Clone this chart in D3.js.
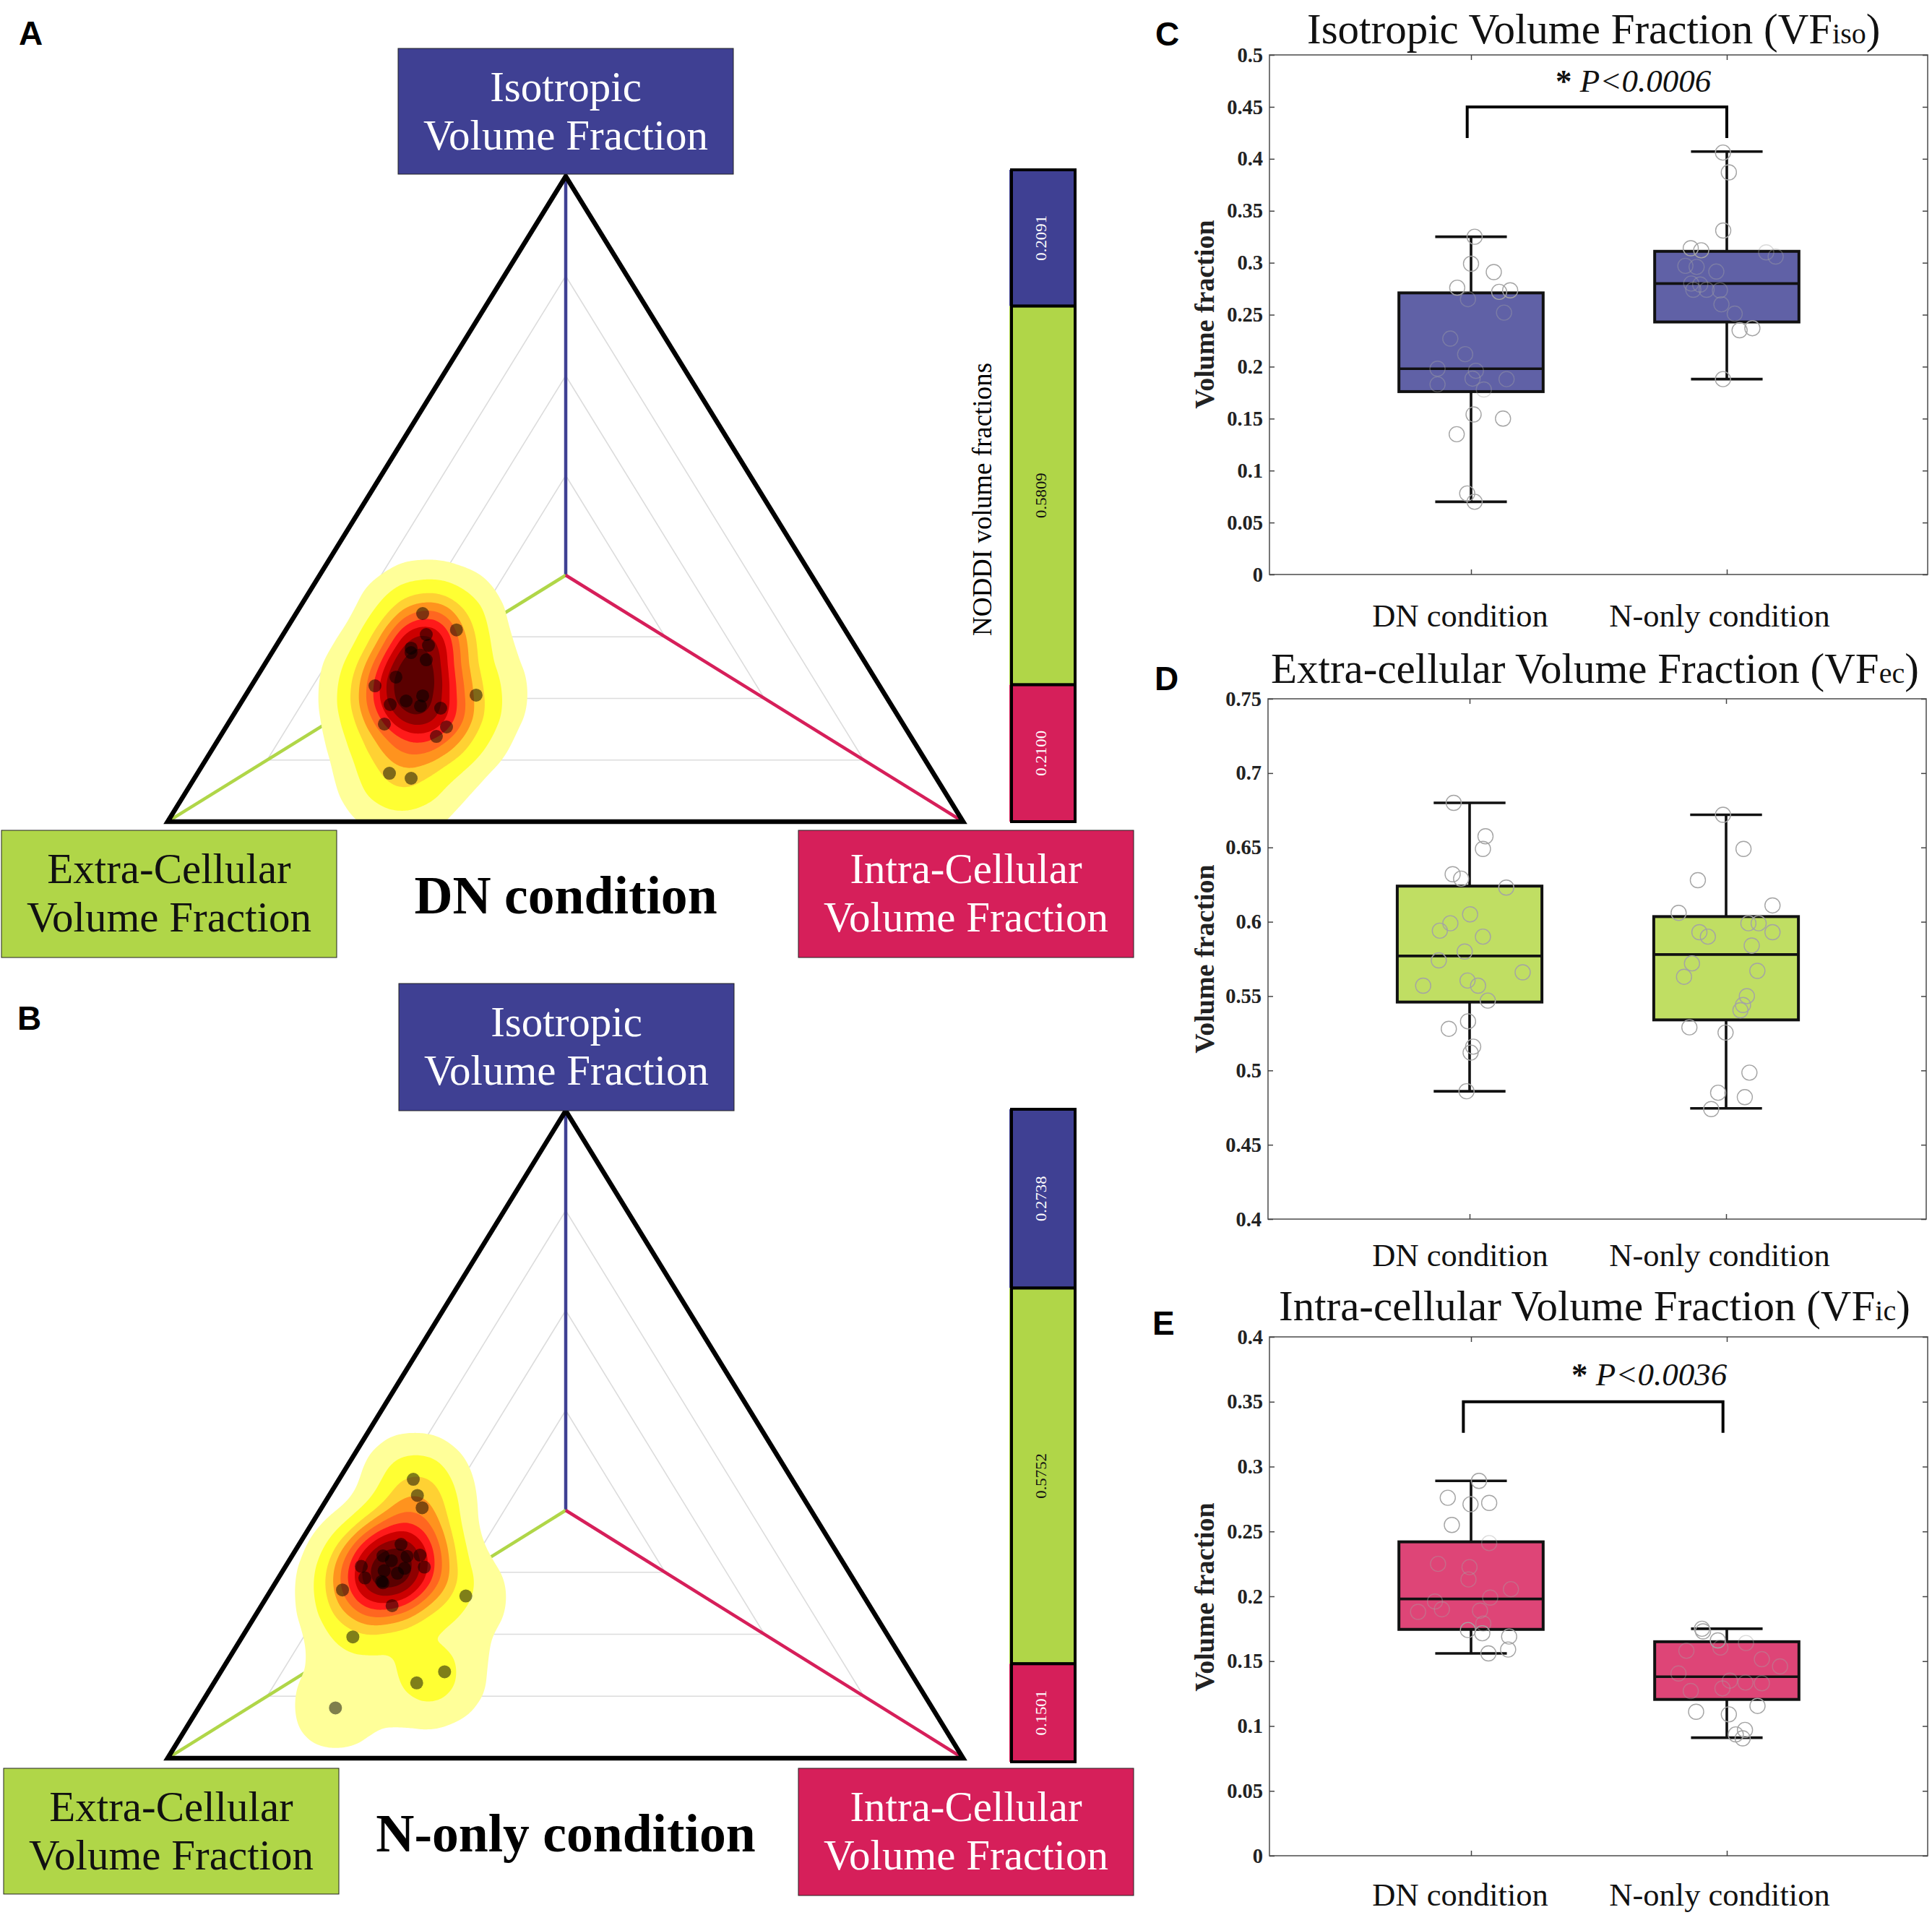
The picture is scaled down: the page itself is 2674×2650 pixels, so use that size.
<!DOCTYPE html>
<html><head><meta charset="utf-8">
<script src="https://cdn.jsdelivr.net/npm/d3@7/dist/d3.min.js"></script>
<style>html,body{margin:0;padding:0;background:#fff}svg{display:block}text{font-family:"Liberation Serif",serif}</style>
</head><body><svg id="c" width="2674" height="2650"></svg>
<script>
// ---------- data ----------
const conditions = ["DN condition", "N-only condition"];
const fractionsA = [0.2091, 0.5809, 0.2100];
const fractionsB = [0.2738, 0.5752, 0.1501];
// ternary subject points: [isotropic, intra-cellular] (extra-cellular is the remainder)
const subjectsA = [[.3225,.1592],[.2971,.2144],[.29,.18],[.2732,.1912],[.2688,.1716],[.262,.1749],[.2508,.1996],[.224,.1749],[.2105,.1553],[.196,.2897],[.1814,.189],[.187,.2062],[.1949,.2231],[.1792,.2282],[.1758,.2553],[.1512,.1968],[.1467,.2772],[.1321,.2717],[.075,.2413],[.0672,.2725]];
const subjectsB = [[.4307,.0933],[.4058,.1109],[.3868,.1264],[.3303,.1281],[.3136,.1603],[.3125,.1143],[.3051,.1286],[.3118,.1449],[.2951,.175],[.2962,.0952],[.2932,.1511],[.2857,.1459],[.2784,.1086],[.2728,.1326],[.2598,.0898],[.2356,.1643],[.2505,.2495],[.1873,.1391],[.1334,.2814],[.1163,.2549],[.0777,.1721],[.2895,.1273],[.2709,.1351]];
const densityLevelsA = [.028,.12,.25,.36,.47,.58,.68,.78,.88];
const densityLevelsB = [.036,.12,.22,.31,.41,.52,.63,.75,.87];
const densityColors = ["#ffff99","#ffff33","#ffd133","#ff931e","#ff6620","#ff1a1a","#cc0000","#8f0000","#5a0000"];
const ringLevels = [.25,.5,.75];

const statsIso = [{lo:.07,q1:.176,med:.198,q3:.271,hi:.325},{lo:.188,q1:.243,med:.28,q3:.311,hi:.407}];
const statsEc  = [{lo:.486,q1:.546,med:.577,q3:.624,hi:.68},{lo:.4745,q1:.534,med:.578,q3:.6035,hi:.672}];
const statsIc  = [{lo:.156,q1:.1745,med:.198,q3:.242,hi:.289},{lo:.091,q1:.1205,med:.138,q3:.165,hi:.175}];

const isoDNv = [.325,.299,.291,.276,.2735,.272,.265,.252,.227,.212,.198,.196,.1885,.188,.183,.178,.154,.15,.135,.078,.07];
const isoDNj = [.014,0,.089,-.054,.153,.11,-.012,.129,-.081,-.023,-.131,.019,.006,.139,-.131,.05,.01,.125,-.056,-.015,.014];
const isoNv  = [.406,.387,.331,.314,.312,.31,.306,.297,.296,.2915,.28,.274,.274,.2735,.26,.251,.235,.237,.188,.279];
const isoNj  = [-.015,.008,-.014,-.141,-.1,.154,.191,-.162,-.118,-.041,-.139,-.131,-.079,-.027,-.021,.031,.05,.1,-.015,-.104];
const ecDNv  = [.68,.6575,.649,.632,.629,.623,.605,.599,.594,.59,.58,.574,.566,.5605,.557,.557,.547,.533,.528,.516,.512,.486];
const ecDNj  = [-.062,.062,.052,-.066,-.033,.143,.002,-.075,-.116,.052,-.019,-.12,.207,-.008,.033,-.181,.071,-.006,-.081,.014,.004,-.012];
const ecNv   = [.672,.649,.628,.611,.606,.599,.599,.593,.593,.59,.584,.572,.567,.563,.55,.544,.5405,.529,.5255,.4985,.485,.482,.474];
const ecNj   = [-.012,.068,-.11,.181,-.185,.087,.127,-.104,.181,-.071,.1,-.133,.122,-.164,.081,.066,.056,-.143,-.002,.091,-.031,.073,-.058];
const icDNv  = [.289,.276,.271,.272,.255,.241,.225,.2225,.213,.2055,.199,.196,.19,.189,.188,.179,.174,.1715,.169,.159,.156];
const icDNj  = [.031,-.091,-.002,.071,-.075,.071,-.129,-.006,-.01,.156,.075,-.141,-.114,.035,-.207,.048,-.012,.044,.149,.145,.068];
const icNv   = [.175,.173,.166,.164,.1605,.158,.1515,.146,.1405,.135,.1335,.133,.129,.127,.1155,.111,.109,.097,.0935,.0905];
const icNj   = [-.097,-.093,-.035,.075,-.025,-.158,.137,.208,-.189,.012,.073,.137,-.017,-.141,.12,-.12,.008,.071,.035,.062];

const ticksIso = [0,.05,.1,.15,.2,.25,.3,.35,.4,.45,.5];
const ticksEc  = [.4,.45,.5,.55,.6,.65,.7,.75];
const ticksIc  = [0,.05,.1,.15,.2,.25,.3,.35,.4];

// ---------- colours ----------
const BLUE="#3f4093", GREEN="#b0d648", RED="#d61f5a";
const svg = d3.select("#c");
const defs = svg.append("defs");

// ---------- left panels ----------
function ternary(o){
  const g = svg.append("g");
  const [T,L,R] = [o.top,o.left,o.right];
  const C = o.center;
  const bary = (iso,ic)=>[iso*T[0]+ic*R[0]+(1-iso-ic)*L[0], iso*T[1]+ic*R[1]+(1-iso-ic)*L[1]];
  const line = d3.line();
  ringLevels.forEach(k=>{
    const p=[T,R,L].map(v=>[C[0]+(v[0]-C[0])*k, C[1]+(v[1]-C[1])*k]);
    g.append("path").attr("d",line(p)+"Z").attr("fill","none").attr("stroke","#dcdcdc").attr("stroke-width",1.6);
  });
  [[T,BLUE],[L,GREEN],[R,RED]].forEach(([v,c])=>{
    g.append("path").attr("d",line([C,v])).attr("stroke",c).attr("stroke-width",4.5).attr("fill","none");
  });
  const pts = o.subjects.map(d=>bary(d[0],d[1]));
  const dens = d3.contourDensity().x(d=>d[0]).y(d=>d[1]).size([1400,2650]).cellSize(3).bandwidth(o.bw);
  const peak = d3.max(dens.thresholds(200)(pts),d=>d.value);
  dens.thresholds(o.levels.map(l=>l*peak));
  defs.append("clipPath").attr("id",o.clip).append("path").attr("d",line([T,R,L])+"Z");
  g.append("g").attr("clip-path",`url(#${o.clip})`).selectAll(".blob").data(dens(pts)).join("path").attr("class","blob")
    .attr("d",d3.geoPath()).attr("fill",(d,i)=>densityColors[i]);
  g.append("path").attr("d",line([T,R,L])+"Z").attr("fill","none").attr("stroke","#000").attr("stroke-width",6.5).attr("stroke-linejoin","miter");
  g.selectAll(".pt").data(pts).join("circle").attr("class","pt").attr("cx",d=>d[0]).attr("cy",d=>d[1]).attr("r",9)
    .attr("fill","#000").attr("fill-opacity",.5);
  const y = d3.scaleLinear().domain([0,d3.sum(o.fractions)]).range(o.barY);
  let acc=0;
  [[o.fractions[0],BLUE,"#fff"],[o.fractions[1],GREEN,"#111"],[o.fractions[2],RED,"#fff"]].forEach(([f,c,tc])=>{
    const y0=y(acc), y1=y(acc+f); acc+=f;
    g.append("rect").attr("x",1397).attr("y",y0).attr("width",91).attr("height",y1-y0).attr("fill",c);
    g.append("rect").attr("x",1400).attr("y",y0).attr("width",88).attr("height",y1-y0).attr("fill",c).attr("stroke","#000").attr("stroke-width",4);
    const my=(y0+y1)/2;
    g.append("text").attr("transform",`translate(1448,${my}) rotate(-90) scale(1.2,1.1)`).attr("text-anchor","middle").attr("fill",tc).attr("font-size",19).text(f.toFixed(4));
  });
  if(o.barTitle) g.append("text").attr("transform",`translate(1372,${(o.barY[0]+o.barY[1])/2+5}) rotate(-90)`).attr("text-anchor","middle").attr("font-size",37).text(o.barTitle);
  o.boxes.forEach(b=>{
    g.append("rect").attr("x",b.x).attr("y",b.y).attr("width",b.w).attr("height",b.h).attr("fill",b.c).attr("stroke","#222").attr("stroke-width",1);
    b.lines.forEach((t,i)=>g.append("text").attr("x",b.x+b.w/2).attr("y",b.y+73+i*67).attr("text-anchor","middle").attr("fill",b.tc).attr("font-size",59).text(t));
  });
  g.append("text").attr("x",o.titleX).attr("y",o.titleY).attr("text-anchor","middle").attr("font-weight","bold").attr("font-size",73.6).text(o.title);
}
const L1=["Isotropic","Volume Fraction"],L2=["Extra-Cellular","Volume Fraction"],L3=["Intra-Cellular","Volume Fraction"];
ternary({clip:"triA",top:[783,244],left:[232,1137],right:[1333,1137],center:[783,796],subjects:subjectsA,bw:38,levels:densityLevelsA,fractions:fractionsA,barY:[235,1137],barTitle:"NODDI volume fractions",
  boxes:[{x:551,y:67,w:464,h:174,c:BLUE,tc:"#fff",lines:L1},{x:2,y:1149,w:464,h:176,c:GREEN,tc:"#111",lines:L2},{x:1105,y:1149,w:464,h:176,c:RED,tc:"#fff",lines:L3}],
  title:"DN condition",titleX:783,titleY:1264});
ternary({clip:"triB",top:[783,1537],left:[232,2433],right:[1333,2433],center:[783,2090],subjects:subjectsB,bw:38,levels:densityLevelsB,fractions:fractionsB,barY:[1535,2438],
  boxes:[{x:552,y:1361,w:464,h:176,c:BLUE,tc:"#fff",lines:L1},{x:5,y:2447,w:464,h:174,c:GREEN,tc:"#111",lines:L2},{x:1105,y:2447,w:464,h:176,c:RED,tc:"#fff",lines:L3}],
  title:"N-only condition",titleX:783,titleY:2562});

// panel letters
[["A",26,62],["B",24,1425],["C",1599,63],["D",1598,955],["E",1595,1847]].forEach(([t,x,y])=>{
  svg.append("text").attr("x",x).attr("y",y).attr("font-size",46).attr("font-weight","bold").style("font-family","Liberation Sans").text(t);
});

// ---------- right panels ----------
function boxPanel(o){
  const g=svg.append("g");
  const x=d3.scaleLinear().domain([1,2]).range(o.xr);
  const y=d3.scaleLinear().domain(o.dom).range(o.yr);
  const [l,r]=o.frame;
  const xa=[d3.axisBottom(x).tickValues([1,2]).tickSize(-7).tickFormat(""),d3.axisTop(x).tickValues([1,2]).tickSize(-7).tickFormat("")];
  const draw=(gen,tx,ty)=>{
    const a=g.append("g").attr("transform",`translate(${tx},${ty})`).call(gen);
    a.select(".domain").remove();
    a.selectAll(".tick line").attr("stroke","#444").attr("stroke-width",1.5);
    return a;
  };
  g.append("rect").attr("x",l).attr("y",o.yr[1]).attr("width",r-l).attr("height",o.yr[0]-o.yr[1]).attr("fill","#fff").attr("stroke","#555").attr("stroke-width",1.6);
  draw(xa[0],0,o.yr[0]); draw(xa[1],0,o.yr[1]);
  const ly=draw(d3.axisLeft(y).tickValues(o.ticks).tickSize(-7).tickPadding(9).tickFormat(d=>String(+d.toFixed(2))),l,0);
  ly.selectAll("text").attr("font-size",28.5).attr("font-weight","bold").attr("fill","#222").style("font-family","Liberation Serif");
  draw(d3.axisRight(y).tickValues(o.ticks).tickSize(-7).tickFormat(""),r,0);
  g.append("text").attr("transform",`translate(1680,${o.labY}) rotate(-90)`).attr("text-anchor","middle").attr("font-size",38).attr("font-weight","bold").attr("fill","#222").text("Volume fraction");
  conditions.forEach((c,i)=>{
    g.append("text").attr("x",[2021,2380][i]).attr("y",o.catY).attr("text-anchor","middle").attr("font-size",44.5).attr("fill","#111").text(c);
  });
  const BW=.282, CAP=.14;
  o.stats.forEach((s,i)=>{
    const cx=x(i+1);
    g.append("path").attr("d",`M${cx},${y(s.lo)}V${y(s.q1)}M${cx},${y(s.q3)}V${y(s.hi)}`).attr("stroke","#111").attr("stroke-width",3.6);
    g.append("path").attr("d",`M${x(i+1-CAP)},${y(s.lo)}H${x(i+1+CAP)}M${x(i+1-CAP)},${y(s.hi)}H${x(i+1+CAP)}`).attr("stroke","#111").attr("stroke-width",3.6);
    g.append("rect").attr("x",x(i+1-BW)).attr("y",y(s.q3)).attr("width",x(i+1+BW)-x(i+1-BW)).attr("height",y(s.q1)-y(s.q3)).attr("fill",o.fill).attr("stroke","#111").attr("stroke-width",4);
    g.append("path").attr("d",`M${x(i+1-BW)},${y(s.med)}H${x(i+1+BW)}`).attr("stroke","#111").attr("stroke-width",3.6);
  });
  o.points.forEach(([vals,jit],i)=>{
    const s=o.stats[i];
    vals.forEach((v,k)=>g.append("circle").attr("cx",x(i+1+jit[k])).attr("cy",y(v)).attr("r",10.5).attr("fill","none").attr("stroke","#a4a4a4")
      .attr("stroke-opacity",(v>s.q1&&v<s.q3)?o.ptOpacity:1).attr("stroke-width",1.4));
  });
  const t=g.append("text").attr("x",o.titleX).attr("y",o.titleY).attr("font-size",59).attr("fill","#111");
  t.append("tspan").text(o.title+" (VF");
  t.append("tspan").attr("font-size",40).text(o.sub);
  t.append("tspan").text(")");
  if(o.brk){
    const b=o.brk;
    g.append("path").attr("d",`M${x(1+b.off[0])},${y(b.bot)}V${y(b.top)}H${x(2+b.off[1])}V${y(b.bot)}`).attr("fill","none").attr("stroke","#000").attr("stroke-width",4);
    const a=g.append("text").attr("x",b.tx).attr("y",y(b.top)-b.dy).attr("font-size",45).attr("fill","#111");
    a.append("tspan").attr("font-weight","bold").text("* ");
    a.append("tspan").attr("font-style","italic").text(b.p);
  }
}
boxPanel({xr:[2036,2390],yr:[795,76],frame:[1757,2668],dom:[0,.5],ticks:ticksIso,stats:statsIso,fill:"#6061a6",ptOpacity:.4,
  points:[[isoDNv,isoDNj],[isoNv,isoNj]],catY:867,labY:435,title:"Isotropic Volume Fraction",sub:"iso",titleX:1809,titleY:60,
  brk:{top:.45,bot:.42,off:[-.015,0],p:"P<0.0006",tx:2153,dy:21}});
boxPanel({xr:[2034,2389],yr:[1687,967],frame:[1755,2666],dom:[.4,.75],ticks:ticksEc,stats:statsEc,fill:"#c0de63",ptOpacity:1,
  points:[[ecDNv,ecDNj],[ecNv,ecNj]],catY:1752,labY:1327,title:"Extra-cellular Volume Fraction",sub:"ec",titleX:1759,titleY:945});
boxPanel({xr:[2036,2390],yr:[2568,1850],frame:[1757,2668],dom:[0,.4],ticks:ticksIc,stats:statsIc,fill:"#de4577",ptOpacity:.4,
  points:[[icDNv,icDNj],[icNv,icNj]],catY:2637,labY:2210,title:"Intra-cellular Volume Fraction",sub:"ic",titleX:1770,titleY:1827,
  brk:{top:.35,bot:.326,off:[-.03,-.015],p:"P<0.0036",tx:2175,dy:23}});
</script></body></html>
